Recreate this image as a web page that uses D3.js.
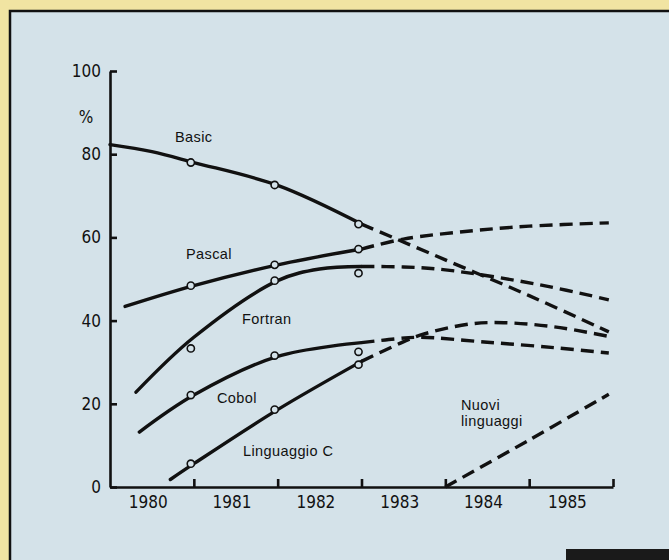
<!DOCTYPE html>
<meta charset="utf-8">
<style>
body { margin: 0; background: #f1e4a2; }
.axis path, .axis line { stroke: #111; stroke-width: 2.6; }
.axis text { font-family: "DejaVu Sans Condensed", "DejaVu Sans", sans-serif; font-size: 17px; fill: #111; }
.trend { fill: none; stroke: #111; stroke-width: 3.4; stroke-linecap: round; }
.forecast { fill: none; stroke: #111; stroke-width: 3.4; stroke-dasharray: 13,7; }
.obs { fill: #d4e2e9; stroke: #111; stroke-width: 1.6; }
.name { font-family: "Liberation Sans", Arial, sans-serif; font-size: 14.5px; letter-spacing: 0.4px; fill: #111; }
</style>
<body>
<script src="https://cdn.jsdelivr.net/npm/d3@7"></script>
<script>
// tick values
var yTicks = [0, 20, 40, 60, 80, 100];
var yearTicks = [1981, 1982, 1983, 1984, 1985, 1986];
var yearLabels = [1980, 1981, 1982, 1983, 1984, 1985];
var obsYears = [1981, 1982, 1983];

// solid trend lines [year, %]
var basicTrend = [[1980, 82.3], [1980.5, 80.6], [1981, 78.0], [1982, 72.5], [1983, 63.2]];
var pascalTrend = [[1980.18, 43.4], [1981, 48.4], [1982, 53.4], [1983, 57.2]];
var fortranTrend = [[1980.31, 22.8], [1981, 36], [1982, 49.6], [1982.5, 52.4], [1983, 53]];
var cobolTrend = [[1980.35, 13.2], [1981, 22.1], [1982, 31.4], [1983, 34.7]];
var cTrend = [[1980.72, 1.8], [1981, 5.6], [1982, 18.6], [1983, 30.2]];

// dashed forecasts
var basicForecast = [[1983, 63.2], [1984, 54.6], [1985, 46], [1985.95, 37.3]];
var pascalForecast = [[1983, 57.2], [1983.5, 59.6], [1984.33, 61.6], [1985, 62.7], [1985.95, 63.5]];
var fortranForecast = [[1983, 53], [1983.5, 52.9], [1984, 52.2], [1985.13, 48.6], [1985.95, 45]];
var cobolForecast = [[1983, 34.7], [1983.4, 35.6], [1983.7, 36], [1984.5, 34.8], [1985.3, 33.5], [1985.95, 32.2]];
var cForecast = [[1983, 30.2], [1983.4, 34], [1983.7, 36.5], [1984.3, 39.2], [1984.7, 39.5], [1985.3, 38.5], [1985.95, 36.2]];
var newForecast = [[1984, 0], [1985, 11.3], [1985.95, 22.3]];

// observed points (1981, 1982, 1983)
var basicObs = [78.0, 72.6, 63.2];
var pascalObs = [48.4, 53.4, 57.2];
var fortranObs = [33.3, 49.6, 51.4];
var cobolObs = [22.1, 31.6, 32.5];
var cObs = [5.6, 18.6, 29.4];

var svg = d3.select("body").append("svg")
    .attr("width", 669)
    .attr("height", 560);

// blue panel with frame
svg.append("rect")
    .attr("x", 10).attr("y", 11)
    .attr("width", 700).attr("height", 600)
    .attr("fill", "#d4e2e9")
    .attr("stroke", "#111")
    .attr("stroke-width", 2.5);
svg.append("rect")
    .attr("x", 566).attr("y", 549)
    .attr("width", 110).attr("height", 12)
    .attr("fill", "#1a1a1a");

var x = d3.scaleLinear().domain([1980, 1986]).range([110, 613]);
var y = d3.scaleLinear().domain([0, 100]).range([487, 71]);

// y axis, ticks pointing inward
svg.append("g")
    .attr("class", "axis")
    .attr("transform", "translate(110,0)")
    .call(d3.axisLeft(y).tickValues(yTicks).tickSizeInner(-7).tickSizeOuter(0).tickPadding(9));

// x axis, ticks pointing up
svg.append("g")
    .attr("class", "axis")
    .attr("transform", "translate(0,487)")
    .call(d3.axisBottom(x).tickValues(yearTicks).tickSizeInner(-8).tickSizeOuter(0).tickFormat(""));

// year labels centred in each year
svg.append("g")
    .attr("class", "axis")
    .attr("transform", "translate(0,487)")
    .call(d3.axisBottom(x).tickValues(yearLabels.map(function(d) { return d + 0.45; }))
      .tickSize(0).tickPadding(9).tickFormat(function(d) { return Math.floor(d); }))
    .select(".domain").remove();

svg.append("text")
    .attr("x", 86).attr("y", 123)
    .attr("text-anchor", "middle")
    .style("font-family", "DejaVu Sans Condensed, DejaVu Sans, sans-serif")
    .style("font-size", "17px")
    .style("fill", "#111")
    .text("%");

var line = d3.line()
    .x(function(d) { return x(d[0]); })
    .y(function(d) { return y(d[1]); })
    .curve(d3.curveCatmullRom.alpha(0.5));

[basicTrend, pascalTrend, fortranTrend, cobolTrend, cTrend].forEach(function(s) {
  svg.append("path").datum(s).attr("class", "trend").attr("d", line);
});
[basicForecast, pascalForecast, fortranForecast, cobolForecast, cForecast, newForecast].forEach(function(s) {
  svg.append("path").datum(s).attr("class", "forecast").attr("d", line);
});

[basicObs, pascalObs, fortranObs, cobolObs, cObs].forEach(function(s) {
  svg.selectAll(null)
      .data(s)
    .enter().append("circle")
      .attr("class", "obs")
      .attr("cx", function(d, i) { return x(obsYears[i]) - 3; })
      .attr("cy", function(d) { return y(d); })
      .attr("r", 3.6);
});

// series names
var names = [
  ["Basic", 175, 142],
  ["Pascal", 186, 259],
  ["Fortran", 242, 324],
  ["Cobol", 217, 403],
  ["Linguaggio C", 243, 456],
  ["Nuovi", 461, 410],
  ["linguaggi", 461, 426]
];
svg.selectAll(".name")
    .data(names)
  .enter().append("text")
    .attr("class", "name")
    .attr("x", function(d) { return d[1]; })
    .attr("y", function(d) { return d[2]; })
    .text(function(d) { return d[0]; });
</script>
</body>
